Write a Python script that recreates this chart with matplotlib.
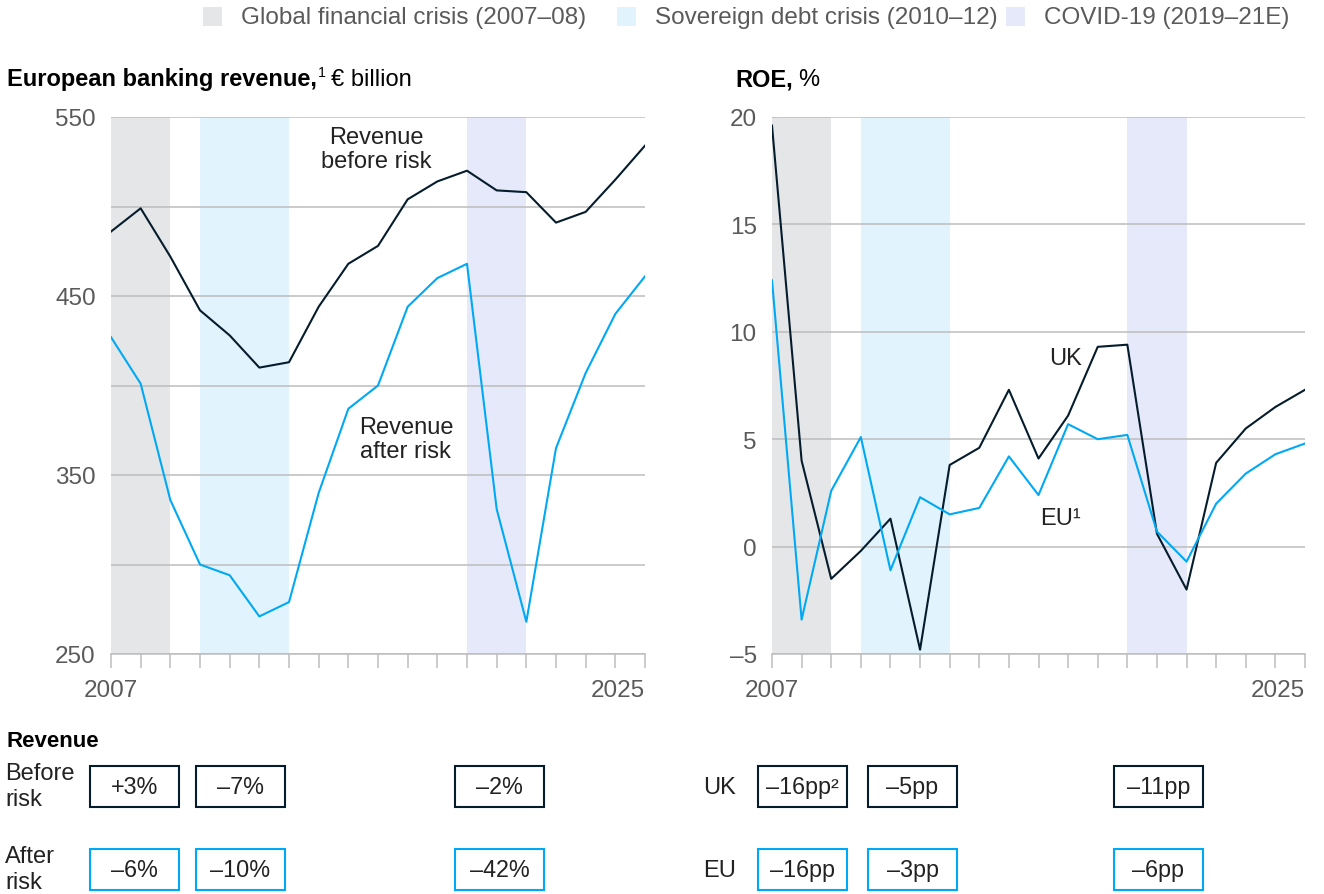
import matplotlib.pyplot as plt
from matplotlib.patches import Rectangle
from matplotlib.text import Annotation

plt.rcParams["font.family"] = ["Liberation Sans", "DejaVu Sans"]

W, H = 1324, 895

years = list(range(2007, 2026))
revenue_before = [486, 499, 472, 442, 428, 410, 413, 444, 468, 478, 504, 514,
                  520, 509, 508, 491, 497, 515, 534]
revenue_after = [427, 401, 336, 300, 294, 271, 279, 340, 387, 400, 444, 460,
                 468, 331, 268, 365, 407, 440, 461]
roe_uk = [19.6, 4.0, -1.5, -0.2, 1.3, -4.8, 3.8, 4.6, 7.3, 4.1, 6.1, 9.3,
          9.4, 0.6, -2.0, 3.9, 5.5, 6.5, 7.3]
roe_eu = [12.4, -3.4, 2.6, 5.1, -1.1, 2.3, 1.5, 1.8, 4.2, 2.4, 5.7, 5.0,
          5.2, 0.7, -0.7, 2.0, 3.4, 4.3, 4.8]

crisis_names = ["Global financial crisis (2007–08)",
                "Sovereign debt crisis (2010–12)",
                "COVID-19 (2019–21E)"]
crisis_start = [2007, 2010, 2019]
crisis_end = [2009, 2013, 2021]
crisis_colors = ["#E5E6E8", "#E1F3FC", "#E6E9FA"]

rev_before_chg = ["+3%", "–7%", "–2%"]
rev_after_chg = ["–6%", "–10%", "–42%"]
uk_chg = ["–16pp²", "–5pp", "–11pp"]
eu_chg = ["–16pp", "–3pp", "–6pp"]

dark = "#051C2C"
blue = "#00A9F4"
grid_c = "#BDBDBD"
tick_c = "#5A5A5A"
txt_c = "#222222"
fs = 17

fig = plt.figure(figsize=(W / 100, H / 100), dpi=100)
ax1 = fig.add_axes([111 / W, 1 - 655 / H, 534 / W, 537 / H])
ax2 = fig.add_axes([772 / W, 1 - 655 / H, 533 / W, 537 / H])


def style_axis(ax, yticks, ylabels):
    for s, e, c in zip(crisis_start, crisis_end, crisis_colors):
        ax.axvspan(s, e, color=c, lw=0, zorder=0)
    ax.set_xlim(years[0], years[-1])
    ax.set_ylim(yticks[0], yticks[-1])
    ax.set_yticks(yticks)
    ax.set_yticklabels(ylabels)
    ax.grid(axis="y", color=grid_c, lw=1.1)
    for s in ["top", "right", "left"]:
        ax.spines[s].set_visible(False)
    ax.spines["bottom"].set_color(grid_c)
    ax.spines["bottom"].set_linewidth(1.1)
    ax.set_xticks(years)
    ax.set_xticklabels([str(y) if y in (years[0], years[-1]) else "" for y in years])
    ax.get_xticklabels()[-1].set_horizontalalignment("right")
    ax.tick_params(axis="x", length=10, width=1.1, color=grid_c, pad=8,
                   labelsize=17.5, labelcolor=tick_c)
    ax.tick_params(axis="y", length=0, pad=11, labelsize=17.5, labelcolor=tick_c)


yt1 = list(range(250, 551, 50))
style_axis(ax1, yt1, [str(v) if v % 100 == 50 else "" for v in yt1])
ax1.plot(years, revenue_before, color=dark, lw=1.5)
ax1.plot(years, revenue_after, color=blue, lw=1.5)
ax1.text(2015.93, 532, "Revenue\nbefore risk", ha="center", va="center",
         fontsize=fs, color=txt_c, linespacing=1.1)
ax1.text(2016.94, 370, "Revenue\nafter risk", ha="center", va="center",
         fontsize=fs, color=txt_c, linespacing=1.1)

yt2 = list(range(-5, 21, 5))
style_axis(ax2, yt2, [str(v).replace("-", "–") for v in yt2])
ax2.plot(years, roe_uk, color=dark, lw=1.5)
ax2.plot(years, roe_eu, color=blue, lw=1.5)
ax2.text(2016.9, 8.8, "UK", ha="center", va="center", fontsize=fs, color=txt_c)
ax2.text(2016.75, 1.35, "EU¹", ha="center", va="center", fontsize=fs, color=txt_c)


def title(x, bold, sup, rest):
    t = fig.text(x / W, 1 - 86 / H, bold, fontsize=fs, weight="bold", va="baseline")
    anchor = t
    if sup:
        s = Annotation(sup, xy=(1, 1), xycoords=t, xytext=(0.5, 1.5),
                       textcoords="offset points", ha="left", va="top",
                       fontsize=fs * 0.6)
        fig.add_artist(s)
        anchor = s
    r = Annotation(rest, xy=(1, 0), xycoords=(anchor, t), xytext=(4, 0),
                   textcoords="offset points", ha="left", va="bottom", fontsize=fs)
    fig.add_artist(r)


title(7, "European banking revenue,", "1", "€ billion")
title(735, "ROE,", "", "%")

# legend
leg_x = [203, 617, 1006]
for x, name, c in zip(leg_x, crisis_names, crisis_colors):
    fig.add_artist(Rectangle((x / W, 1 - 27 / H), 19 / W, 19 / H,
                             transform=fig.transFigure, color=c, lw=0))
    fig.text((x + 38) / W, 1 - 18 / H, name, fontsize=17.5, color=tick_c, va="center")

# change boxes
fig.text(7 / W, 1 - 742 / H, "Revenue", fontsize=16, weight="bold", va="center")
fig.text(5 / W, 1 - 787 / H, "Before\nrisk", fontsize=fs, va="center",
         color=txt_c, linespacing=1.2)
fig.text(5 / W, 1 - 870 / H, "After\nrisk", fontsize=fs, va="center",
         color=txt_c, linespacing=1.2)
fig.text(703 / W, 1 - 788 / H, "UK", fontsize=fs, va="center", color=txt_c)
fig.text(703 / W, 1 - 871 / H, "EU", fontsize=fs, va="center", color=txt_c)


def draw_boxes(lefts, top, labels, edge):
    for x, lab in zip(lefts, labels):
        fig.add_artist(Rectangle((x / W, 1 - (top + 41) / H), 89 / W, 41 / H,
                                 transform=fig.transFigure, fill=False,
                                 edgecolor=edge, lw=1.5))
        fig.text((x + 44.5) / W, 1 - (top + 21) / H, lab, fontsize=16.8,
                 ha="center", va="center", color=txt_c)


draw_boxes([90, 196, 455], 767, rev_before_chg, dark)
draw_boxes([90, 196, 455], 850, rev_after_chg, blue)
draw_boxes([758, 868, 1114], 767, uk_chg, dark)
draw_boxes([758, 868, 1114], 850, eu_chg, blue)

fig.savefig("out.png", dpi=100)
